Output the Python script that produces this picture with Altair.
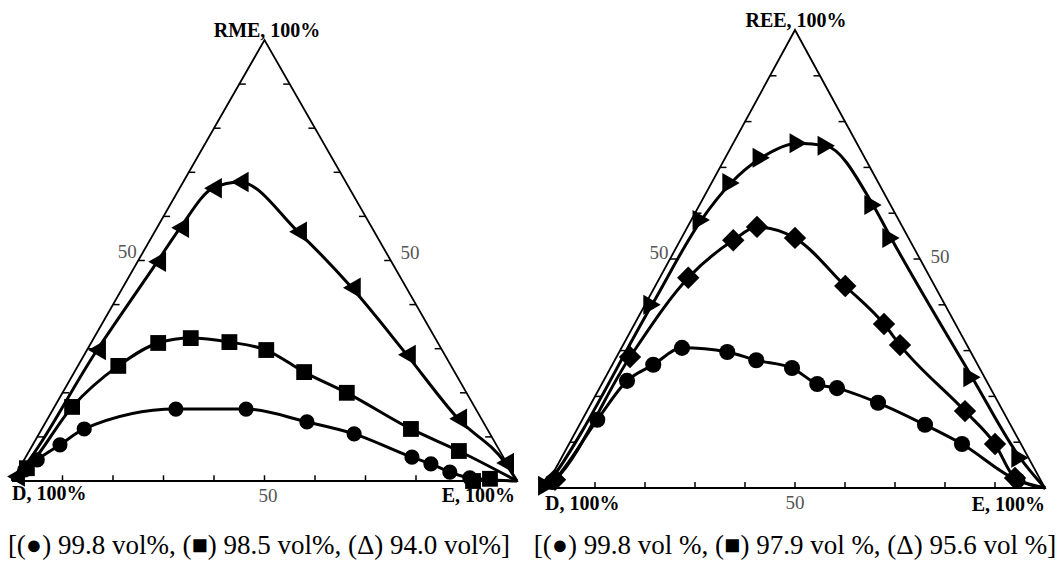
import altair as alt
import pandas as pd

# ---------------- data (ternary compositions, %) ----------------
# Left diagram: RME / D / E
L_circle_E   = [1.3, 2.6, 5.4, 8.4, 24.3, 38.2, 51.7, 62.4, 76.5, 81.0, 85.7, 90.3]
L_circle_R   = [2.5, 4.8, 8.2, 11.8, 16.3, 16.3, 13.4, 10.7, 5.4, 3.9, 2.0, 0.7]
L_square_E   = [1.5, 3.5, 8.0, 13.3, 19.2, 27.3, 35.5, 45.5, 56.3, 73.1, 85.1, 91.3, 94.4]
L_square_R   = [2.9, 16.8, 26.1, 31.3, 32.4, 31.5, 29.7, 24.7, 20.0, 11.8, 6.8, 0.0, 0.5]
L_square_on_curve = 11          # the last two squares sit on the base line, off the curve
L_tri_E      = [0.3, 2.0, 3.9, 4.6, 6.6, 11.2, 28.4, 45.4, 63.9, 81.3, 95.6]
L_tri_R      = [1.0, 29.7, 49.7, 57.4, 66.4, 67.8, 56.5, 43.8, 28.6, 14.1, 4.1]

# Right diagram: REE / D / E
R_circle_E   = [0.8, 3.0, 4.7, 8.2, 12.1, 21.6, 28.3, 36.3, 43.1, 47.5, 57.3, 69.1, 78.6, 93.6]
R_circle_R   = [1.3, 14.9, 23.4, 26.9, 30.6, 29.7, 27.9, 26.2, 22.7, 21.8, 18.6, 13.8, 9.6, 1.7]
R_square_E   = [1.1, 2.7, 5.7, 10.6, 13.9, 22.7, 38.0, 49.9, 55.4, 75.6, 85.2, 92.9]
R_square_R   = [1.8, 28.6, 45.9, 54.1, 57.0, 54.6, 44.1, 35.8, 31.2, 16.8, 9.6, 2.2]
R_tri_E      = [0.1, 1.4, 2.0, 3.9, 7.2, 13.0, 18.9, 34.7, 41.9, 73.3, 91.7]
R_tri_R      = [0.5, 40.0, 58.5, 66.6, 72.1, 75.3, 74.7, 61.8, 54.6, 24.2, 6.6]

tick_values = [10, 20, 30, 40, 50, 60, 70, 80, 90]

left_labels = {"top": "RME, 100%", "D": "D, 100%", "E": "E, 100%", "mid": "50",
               "caption": "[(\u25CF) 99.8 vol%, (\u25A0) 98.5 vol%, (\u0394) 94.0 vol%]"}
right_labels = {"top": "REE, 100%", "D": "D, 100%", "E": "E, 100%", "mid": "50",
                "caption": "[(\u25CF) 99.8 vol %, (\u25A0) 97.9 vol %, (\u0394) 95.6 vol %]"}

SERIF = "Liberation Serif"


def to_xy(E, R):
    df = pd.DataFrame({"E": E, "R": R})
    df["X"] = df["E"] + df["R"] / 2.0
    return df


def panel(series, labels, xdom, ydom, w, h, sym, text_pos):
    xs = alt.Scale(domain=xdom, nice=False, zero=False)
    ys = alt.Scale(domain=ydom, nice=False, zero=False)
    X = alt.X("X:Q", scale=xs, axis=None)
    Y = alt.Y("R:Q", scale=ys, axis=None)

    frame = pd.DataFrame({"X": [0, 100, 50, 0], "R": [0, 0, 100, 0], "o": [0, 1, 2, 3]})
    frame_l = alt.Chart(frame).mark_line(color="black", strokeWidth=1.8).encode(
        x=X, y=Y, order="o:O")

    ticks = []
    for t in tick_values:
        ticks.append({"X": t, "R": 0, "X2": t, "R2": 1.3})
        ticks.append({"X": t / 2, "R": t, "X2": t / 2 + 1.3, "R2": t})
        ticks.append({"X": 100 - t / 2, "R": t, "X2": 100 - t / 2 - 1.3, "R2": t})
    ticks_l = alt.Chart(pd.DataFrame(ticks)).mark_rule(color="black", strokeWidth=1.5).encode(
        x=X, y=Y, x2="X2:Q", y2="R2:Q")

    layers = [frame_l, ticks_l]
    for name, (E, R, n_curve) in series.items():
        df = to_xy(E, R)
        line_df = pd.concat([pd.DataFrame({"E": [0], "R": [0], "X": [0]}), df.iloc[:n_curve],
                             pd.DataFrame({"E": [100], "R": [0], "X": [100]})], ignore_index=True)
        layers.append(alt.Chart(line_df).mark_line(
            color="black", strokeWidth=3, interpolate="monotone").encode(
            x=X, y=Y, order=alt.Order("X:Q")))
        shape, size, angle = sym[name]
        layers.append(alt.Chart(df).mark_point(
            shape=shape, size=size, angle=angle, filled=True, color="black", opacity=1).encode(
            x=X, y=Y))

    for key, (px, pr, align, size, weight, color) in text_pos.items():
        tdf = pd.DataFrame({"X": [px], "R": [pr], "t": [labels[key] if key in labels else key.split("#")[0]]})
        layers.append(alt.Chart(tdf).mark_text(
            align=align, baseline="middle", font=SERIF, fontSize=size, fontWeight=weight,
            color=color).encode(x=X, y=Y, text="t:N"))

    return alt.layer(*layers).properties(width=w, height=h)


left_sym = {"c": ("circle", 230, 0), "s": ("square", 250, 0), "t": ("triangle-left", 420, 0)}
right_sym = {"c": ("circle", 260, 0), "s": ("square", 250, 45), "t": ("triangle-right", 400, 0)}

left_text = {
    "top": (50.5, 102.0, "center", 20, "bold", "black"),
    "D": (0, -2.9, "left", 20, "bold", "black"),
    "E": (99.6, -3.5, "right", 20, "bold", "black"),
    "mid": (50.7, -3.4, "center", 19, "normal", "#555"),
    "50#l": (22.8, 51.9, "center", 19, "normal", "#555"),
    "50#r": (78.8, 51.7, "center", 19, "normal", "#555"),
    "caption": (48.9, -14.7, "center", 27, "normal", "black"),
}
right_text = {
    "top": (50.2, 101.9, "center", 20, "bold", "black"),
    "D": (0, -3.4, "left", 20, "bold", "black"),
    "E": (100, -3.8, "right", 20, "bold", "black"),
    "mid": (50, -3.2, "center", 19, "normal", "#555"),
    "50#l": (22.8, 51.3, "center", 19, "normal", "#555"),
    "50#r": (79.0, 50.4, "center", 19, "normal", "#555"),
    "caption": (50, -12.7, "center", 27, "normal", "black"),
}

left = panel({"c": (L_circle_E, L_circle_R, len(L_circle_E)),
              "s": (L_square_E, L_square_R, L_square_on_curve),
              "t": (L_tri_E, L_tri_R, len(L_tri_E))},
             left_labels, [-12 / 5.05, 518 / 5.05], [-84 / 4.41, 481 / 4.41], 530, 565, left_sym, left_text)
right = panel({"c": (R_circle_E, R_circle_R, len(R_circle_E)),
               "s": (R_square_E, R_square_R, len(R_square_E)),
               "t": (R_tri_E, R_tri_R, len(R_tri_E))},
              right_labels, [-3.0, 514 / 5.0], [-77 / 4.58, 488 / 4.58], 529, 565, right_sym, right_text)

chart = alt.hconcat(left, right, spacing=0, bounds="flush").properties(
    padding=0, background="white"
).configure_view(stroke=None)

chart.save("out.html", embed_options={"renderer": "svg", "actions": False})
